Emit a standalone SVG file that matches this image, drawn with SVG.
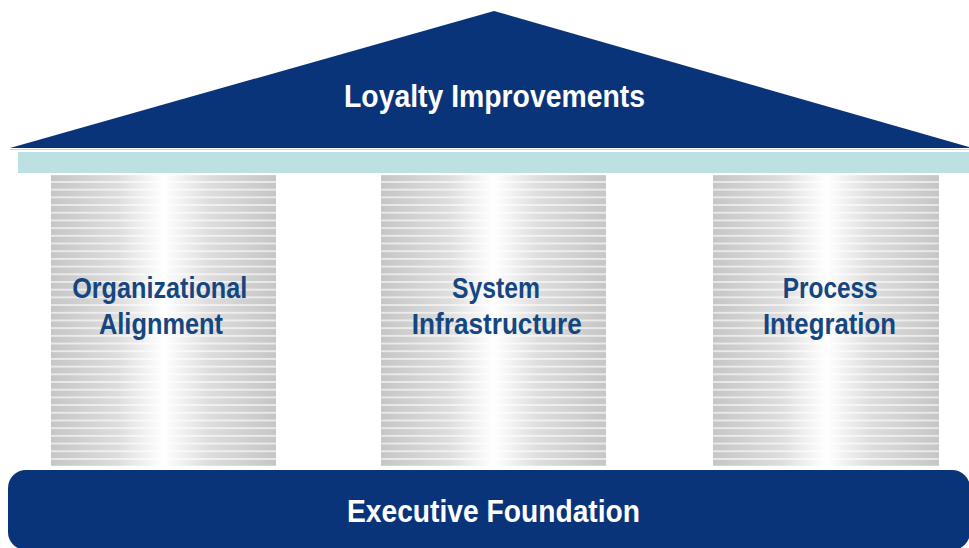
<svg xmlns="http://www.w3.org/2000/svg" width="969" height="548" viewBox="0 0 969 548">
<defs>
<linearGradient id="colGrad" x1="0" y1="0" x2="1" y2="0">
<stop offset="0" stop-color="#c6c6c6"/>
<stop offset="0.3" stop-color="#dddddd"/>
<stop offset="0.5" stop-color="#ffffff"/>
<stop offset="0.7" stop-color="#dddddd"/>
<stop offset="1" stop-color="#c6c6c6"/>
</linearGradient>
<pattern id="stripes" patternUnits="userSpaceOnUse" x="0" y="181" width="969" height="7.694">
<rect x="0" y="0" width="969" height="1.9" fill="#ffffff" fill-opacity="0.6"/>
</pattern>
</defs>
<style>
.navy{fill:#0a347a}
.col{fill:url(#colGrad)}
.str{fill:url(#stripes)}
.wt{font-family:"Liberation Sans",Arial,sans-serif;font-weight:bold;fill:#ffffff;text-anchor:middle}
.bt{font-family:"Liberation Sans",Arial,sans-serif;font-weight:bold;fill:#15467f;text-anchor:middle;font-size:30px}
</style>
<g id="roof">
<polygon class="navy" points="10,148 494,11 969,147 969,148"/>
<line x1="10" y1="149.5" x2="969" y2="149.5" stroke="#c2d3e6" stroke-width="1"/>
<text class="wt" x="494.5" y="106.5" font-size="32" textLength="301" lengthAdjust="spacingAndGlyphs">Loyalty Improvements</text>
</g>
<g id="beam">
<rect x="18" y="152" width="951" height="21" fill="#bde0e3"/>
</g>
<g id="pillar1">
<rect class="col" x="51" y="175" width="225" height="291"/>
<rect class="str" x="51" y="175" width="225" height="291"/>
<text class="bt" x="159.7" y="297.5" textLength="175" lengthAdjust="spacingAndGlyphs">Organizational</text>
<text class="bt" x="161" y="333.5" textLength="124" lengthAdjust="spacingAndGlyphs">Alignment</text>
</g>
<g id="pillar2">
<rect class="col" x="381" y="175" width="225" height="291"/>
<rect class="str" x="381" y="175" width="225" height="291"/>
<text class="bt" x="496" y="297.5" textLength="88" lengthAdjust="spacingAndGlyphs">System</text>
<text class="bt" x="496.8" y="333.5" textLength="170" lengthAdjust="spacingAndGlyphs">Infrastructure</text>
</g>
<g id="pillar3">
<rect class="col" x="713" y="175" width="226" height="291"/>
<rect class="str" x="713" y="175" width="226" height="291"/>
<text class="bt" x="830.2" y="297.5" textLength="95" lengthAdjust="spacingAndGlyphs">Process</text>
<text class="bt" x="829.4" y="333.5" textLength="133" lengthAdjust="spacingAndGlyphs">Integration</text>
</g>
<g id="foundation">
<rect class="navy" x="8" y="470" width="962" height="80" rx="18" ry="18"/>
<text class="wt" x="493.5" y="521.5" font-size="32" textLength="293" lengthAdjust="spacingAndGlyphs">Executive Foundation</text>
</g>
<g id="connectors"></g>
</svg>
